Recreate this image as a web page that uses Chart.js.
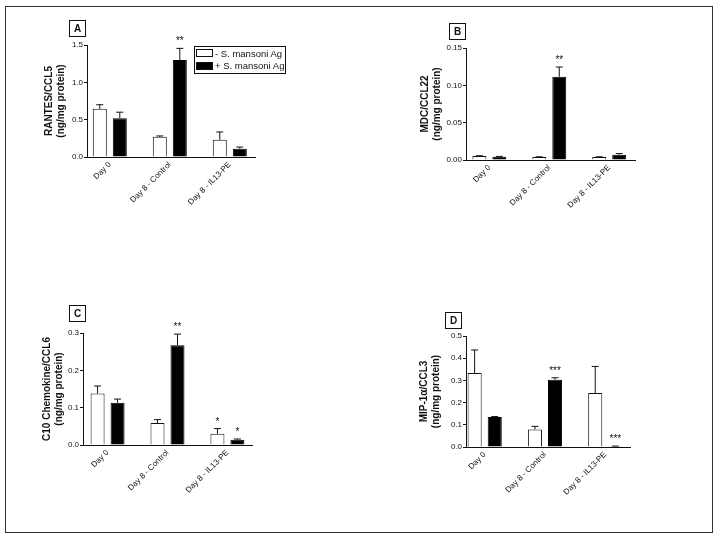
<!DOCTYPE html>
<html lang="en">
<head>
<meta charset="UTF-8">
<title>Chemokine levels - panels A-D</title>
<script src="https://cdn.jsdelivr.net/npm/chart.js"></script>
<style>
  body { margin: 0; background: #fff; font-family: "Liberation Sans", Arial, sans-serif; color: #111; }
  #page { position: relative; width: 720px; height: 539px; overflow: hidden; }
  #frame { position: absolute; left: 5px; top: 6px; width: 706px; height: 525px; border: 1.5px solid #333; }
  canvas { position: absolute; }
  .tag { position: absolute; width: 15px; height: 15px; border: 1.5px solid #111; font-weight: bold;
         font-size: 10px; line-height: 15px; text-align: center; }
  #legend { position: absolute; left: 194px; top: 46px; width: 90px; height: 26px; border: 1px solid #111;
            font-size: 9.5px; }
  #legend .row { display: flex; align-items: center; height: 12.5px; }
  #legend .sw { width: 15px; height: 6px; border: 1px solid #111; margin: 0 2px 0 1px; }
</style>
</head>
<body>
<div id="page">
  <div id="frame"></div>
  <canvas id="chartA" width="280" height="230" style="left:20px;top:15px"></canvas>
  <canvas id="chartB" width="280" height="230" style="left:390px;top:15px"></canvas>
  <canvas id="chartC" width="280" height="230" style="left:20px;top:285px"></canvas>
  <canvas id="chartD" width="280" height="230" style="left:390px;top:285px"></canvas>
  <div class="tag" style="left:69px;top:20px">A</div>
  <div class="tag" style="left:449px;top:23px">B</div>
  <div class="tag" style="left:69px;top:305px">C</div>
  <div class="tag" style="left:445px;top:312px">D</div>
  <div id="legend"></div>
</div>
<script>
// categories and series
const categories = ['Day 0', 'Day 8 - Control', 'Day 8 - IL13-PE'];
const seriesNames = ['- S. mansoni Ag', '+ S. mansoni Ag'];

// A: RANTES/CCL5
const rantesNeg = [0.645, 0.27, 0.23];
const rantesNegErr = [0.055, 0.012, 0.105];
const rantesPos = [0.52, 1.30, 0.11];
const rantesPosErr = [0.08, 0.155, 0.023];
const rantesNegSig = ['', '', ''];
const rantesPosSig = ['', '**', ''];

// B: MDC/CCL22
const mdcNeg = [0.0054, 0.0040, 0.0040];
const mdcNegErr = [0.0003, 0.0003, 0.0003];
const mdcPos = [0.0045, 0.1115, 0.0071];
const mdcPosErr = [0.0003, 0.013, 0.0015];
const mdcNegSig = ['', '', ''];
const mdcPosSig = ['', '**', ''];

// C: C10 chemokine/CCL6
const c10Neg = [0.138, 0.059, 0.030];
const c10NegErr = [0.020, 0.009, 0.014];
const c10Pos = [0.113, 0.267, 0.014];
const c10PosErr = [0.010, 0.030, 0.002];
const c10NegSig = ['', '', '*'];
const c10PosSig = ['', '**', '*'];

// D: MIP-1a/CCL3
const mipNeg = [0.333, 0.079, 0.243];
const mipNegErr = [0.104, 0.014, 0.120];
const mipPos = [0.135, 0.303, 0.003];
const mipPosErr = [0.002, 0.009, 0.001];
const mipNegSig = ['', '', ''];
const mipPosSig = ['', '***', '***'];

// y axis ticks
const yMaxes = [1.5, 0.15, 0.3, 0.5];
const ySteps = [0.5, 0.05, 0.1, 0.1];
const yDecimals = [1, 2, 1, 1];

const FONT = '"Liberation Sans", Arial, sans-serif';
Chart.defaults.font.family = FONT;
Chart.defaults.color = '#111';

// upward error bars with caps + significance stars
const errorBars = {
  id: 'errorBars',
  afterDatasetsDraw(chart) {
    const ctx = chart.ctx;
    const y = chart.scales.y;
    chart.data.datasets.forEach((ds, i) => {
      chart.getDatasetMeta(i).data.forEach((bar, j) => {
        const top = y.getPixelForValue(ds.data[j].y + ds.errors[j]);
        ctx.save();
        ctx.strokeStyle = '#111';
        ctx.lineWidth = 1;
        ctx.beginPath();
        ctx.moveTo(bar.x, bar.y);
        ctx.lineTo(bar.x, top);
        ctx.moveTo(bar.x - 3.5, top);
        ctx.lineTo(bar.x + 3.5, top);
        ctx.stroke();
        if (ds.sig[j]) {
          ctx.fillStyle = '#111';
          ctx.font = '10px ' + FONT;
          ctx.textAlign = 'center';
          ctx.textBaseline = 'alphabetic';
          ctx.fillText(ds.sig[j], bar.x, top - 4);
        }
        ctx.restore();
      });
    });
  }
};

function toPoints(vals) {
  return vals.map((v, i) => ({ x: i, y: v }));
}

function makePanel(id, p) {
  new Chart(document.getElementById(id), {
    type: 'bar',
    data: {
      datasets: [
        { label: seriesNames[0], data: toPoints(p.neg), errors: p.negErr, sig: p.negSig,
          backgroundColor: '#fff', borderColor: '#111', borderWidth: 1 },
        { label: seriesNames[1], data: toPoints(p.pos), errors: p.posErr, sig: p.posSig,
          backgroundColor: '#000', borderColor: '#000', borderWidth: 1 }
      ]
    },
    options: {
      responsive: false,
      animation: false,
      categoryPercentage: 0.667,
      barPercentage: 0.7,
      layout: { padding: { left: 0, top: p.top, right: p.right, bottom: 0 } },
      plugins: { legend: { display: false }, tooltip: { enabled: false } },
      scales: {
        x: {
          type: 'linear',
          min: p.xMin,
          max: p.xMax,
          offset: false,
          grid: { display: false, drawTicks: false },
          border: { display: true, color: '#111', width: 1 },
          ticks: {
            stepSize: 1,
            includeBounds: false,
            autoSkip: false,
            minRotation: 45,
            maxRotation: 45,
            padding: 3,
            font: { size: 8 },
            callback: v => Number.isInteger(v) ? categories[v] : ''
          },
          afterFit: s => { s.height = p.xHeight; }
        },
        y: {
          min: 0,
          max: p.yMax,
          grid: { drawOnChartArea: false, drawTicks: true, tickLength: 3, color: '#111' },
          border: { display: true, color: '#111', width: 1 },
          ticks: {
            stepSize: p.yStep,
            padding: 1,
            font: { size: 8 },
            callback: v => Number(v).toFixed(p.dec)
          },
          title: {
            display: true,
            text: p.title,
            font: { size: 10, weight: 'bold', lineHeight: 1.2 },
            padding: { top: p.titlePad, bottom: 0 }
          },
          afterFit: s => { s.width = p.yWidth; }
        }
      }
    },
    plugins: [errorBars]
  });
}

makePanel('chartA', {
  neg: rantesNeg, negErr: rantesNegErr, negSig: rantesNegSig,
  pos: rantesPos, posErr: rantesPosErr, posSig: rantesPosSig,
  yMax: yMaxes[0], yStep: ySteps[0], dec: yDecimals[0],
  title: ['RANTES/CCL5', '(ng/mg protein)'],
  xMin: -0.38, xMax: 2.42, top: 30, right: 45, yWidth: 67, xHeight: 88, titlePad: 23
});
makePanel('chartB', {
  neg: mdcNeg, negErr: mdcNegErr, negSig: mdcNegSig,
  pos: mdcPos, posErr: mdcPosErr, posSig: mdcPosSig,
  yMax: yMaxes[1], yStep: ySteps[1], dec: yDecimals[1],
  title: ['MDC/CCL22', '(ng/mg protein)'],
  xMin: -0.39, xMax: 2.43, top: 33, right: 35, yWidth: 76, xHeight: 85, titlePad: 29
});
makePanel('chartC', {
  neg: c10Neg, negErr: c10NegErr, negSig: c10NegSig,
  pos: c10Pos, posErr: c10PosErr, posSig: c10PosSig,
  yMax: yMaxes[2], yStep: ySteps[2], dec: yDecimals[2],
  title: ['C10 Chemokine/CCL6', '(ng/mg protein)'],
  xMin: -0.41, xMax: 2.41, top: 48, right: 48, yWidth: 63, xHeight: 70, titlePad: 21
});
makePanel('chartD', {
  neg: mipNeg, negErr: mipNegErr, negSig: mipNegSig,
  pos: mipPos, posErr: mipPosErr, posSig: mipPosSig,
  yMax: yMaxes[3], yStep: ySteps[3], dec: yDecimals[3],
  title: ['MIP-1\u03B1/CCL3', '(ng/mg protein)'],
  xMin: -0.31, xMax: 2.41, top: 51, right: 40, yWidth: 76, xHeight: 68, titlePad: 28
});

// legend box for panel A
const legend = document.getElementById('legend');
seriesNames.forEach((name, i) => {
  const row = document.createElement('div');
  row.className = 'row';
  const sw = document.createElement('span');
  sw.className = 'sw';
  sw.style.background = i === 0 ? '#fff' : '#000';
  row.appendChild(sw);
  row.appendChild(document.createTextNode(name));
  legend.appendChild(row);
});
</script>
</body>
</html>
